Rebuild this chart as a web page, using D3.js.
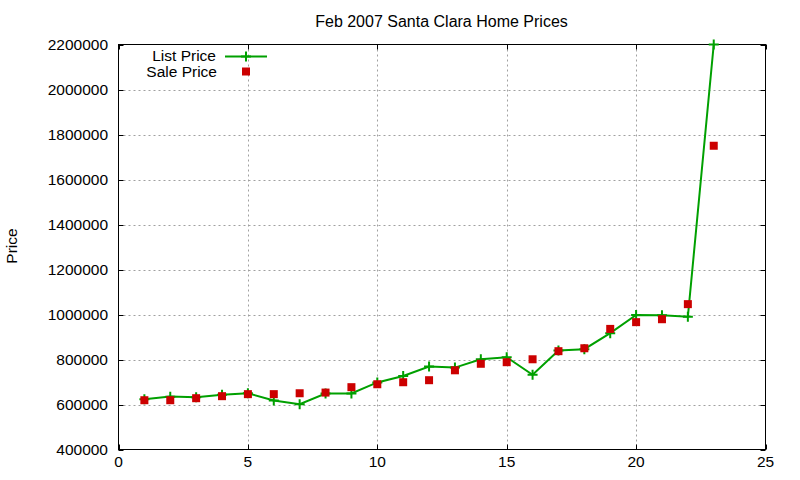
<!DOCTYPE html>
<meta charset="utf-8">
<script src="https://d3js.org/d3.v7.min.js"></script>
<style>
* { margin: 0; padding: 0; }
body { background: #fff; }
text { font-family: "Liberation Sans", Arial, sans-serif; fill: #000; }
</style>
<svg width="800" height="480"></svg>
<script>
// house number (x), list price, sale price
const houses = d3.range(1, 24)
const listPrice = [623000, 635000, 632000, 643000, 650000, 618000, 601000, 649000, 649000, 698000,
                   727000, 769000, 764000, 801000, 810000, 732000, 840000, 846000, 917000, 998000,
                   997000, 990000, 2200000]
const salePrice = [619000, 619000, 628000, 637000, 646000, 646000, 650000, 653000, 677000, 690000,
                   699000, 708000, 752000, 781000, 788000, 801000, 837000, 850000, 936000, 966000,
                   979000, 1046000, 1750000]
const xTicks = [0, 5, 10, 15, 20, 25]
const yTicks = d3.range(400000, 2200001, 200000)

const green = "#00a000", red = "#cc0000"
const plotLeft = 118.5, plotRight = 765.5, plotTop = 44.5, plotBottom = 449.5

let svg = d3.select("svg")

let x = d3.scaleLinear().domain([0, 25]).range([plotLeft, plotRight])
let y = d3.scaleLinear().domain([400000, 2200000]).range([plotBottom, plotTop])

// grid
let grid = svg.append("g")
    .attr("stroke", "#a0a0a0")
    .attr("stroke-dasharray", "2,3")
    .attr("stroke-width", 1)
grid.selectAll(".gx")
    .data(xTicks.slice(1, -1))
    .enter().append("line")
    .attr("x1", d => Math.round(x(d)) + 0.5).attr("x2", d => Math.round(x(d)) + 0.5)
    .attr("y1", plotTop).attr("y2", plotBottom)
grid.selectAll(".gy")
    .data(yTicks.slice(1, -1))
    .enter().append("line")
    .attr("y1", d => Math.round(y(d)) + 0.5).attr("y2", d => Math.round(y(d)) + 0.5)
    .attr("x1", plotLeft).attr("x2", plotRight)

// ticks (inward, mirrored)
let ticks = svg.append("g").attr("stroke", "#000").attr("stroke-width", 1)
xTicks.forEach(d => {
    let px = Math.round(x(d)) + 0.5
    ticks.append("line").attr("x1", px).attr("x2", px).attr("y1", plotBottom).attr("y2", plotBottom - 5)
    ticks.append("line").attr("x1", px).attr("x2", px).attr("y1", plotTop).attr("y2", plotTop + 5)
})
yTicks.forEach(d => {
    let py = Math.round(y(d)) + 0.5
    ticks.append("line").attr("y1", py).attr("y2", py).attr("x1", plotLeft).attr("x2", plotLeft + 5)
    ticks.append("line").attr("y1", py).attr("y2", py).attr("x1", plotRight).attr("x2", plotRight - 5)
})

// border
svg.append("rect")
    .attr("x", plotLeft).attr("y", plotTop)
    .attr("width", plotRight - plotLeft).attr("height", plotBottom - plotTop)
    .attr("fill", "none").attr("stroke", "#000").attr("stroke-width", 1)

// tick labels
svg.selectAll(".xl")
    .data(xTicks)
    .enter().append("text")
    .attr("x", d => x(d)).attr("y", 467)
    .attr("text-anchor", "middle")
    .attr("font-size", "15.5px")
    .text(d => d)
svg.selectAll(".yl")
    .data(yTicks)
    .enter().append("text")
    .attr("x", 108).attr("y", d => y(d) + 5.5)
    .attr("text-anchor", "end")
    .attr("font-size", "15.5px")
    .text(d => d)

// titles
svg.append("text")
    .attr("x", 441.5).attr("y", 27)
    .attr("text-anchor", "middle")
    .attr("font-size", "16px")
    .text("Feb 2007 Santa Clara Home Prices")
svg.append("text")
    .attr("transform", "translate(17,246) rotate(-90)")
    .attr("text-anchor", "middle")
    .attr("font-size", "15.5px")
    .text("Price")

// list price line
let line = d3.line().x((d, i) => x(houses[i])).y(d => y(d))
svg.append("path")
    .attr("d", line(listPrice))
    .attr("fill", "none")
    .attr("stroke", green)
    .attr("stroke-width", 2)

function plus(g, cx, cy) {
    g.append("path")
        .attr("d", `M${cx - 5},${cy}H${cx + 5}M${cx},${cy - 5}V${cy + 5}`)
        .attr("stroke", green).attr("stroke-width", 2)
}
let pts = svg.append("g")
listPrice.forEach((d, i) => plus(pts, x(houses[i]), y(d)))

// sale price squares
svg.selectAll(".sq")
    .data(salePrice)
    .enter().append("rect")
    .attr("x", (d, i) => x(houses[i]) - 4)
    .attr("y", d => y(d) - 4)
    .attr("width", 8).attr("height", 8)
    .attr("fill", red)

// legend
let lg = svg.append("g")
lg.append("text").attr("x", 216).attr("y", 61).attr("text-anchor", "end")
    .attr("font-size", "15.5px").text("List Price")
lg.append("line").attr("x1", 225).attr("x2", 267).attr("y1", 56.5).attr("y2", 56.5)
    .attr("stroke", green).attr("stroke-width", 2)
plus(lg, 246, 56.5)
lg.append("text").attr("x", 217).attr("y", 77).attr("text-anchor", "end")
    .attr("font-size", "15.5px").text("Sale Price")
lg.append("rect").attr("x", 242).attr("y", 67.5).attr("width", 8).attr("height", 8)
    .attr("fill", red)
</script>
